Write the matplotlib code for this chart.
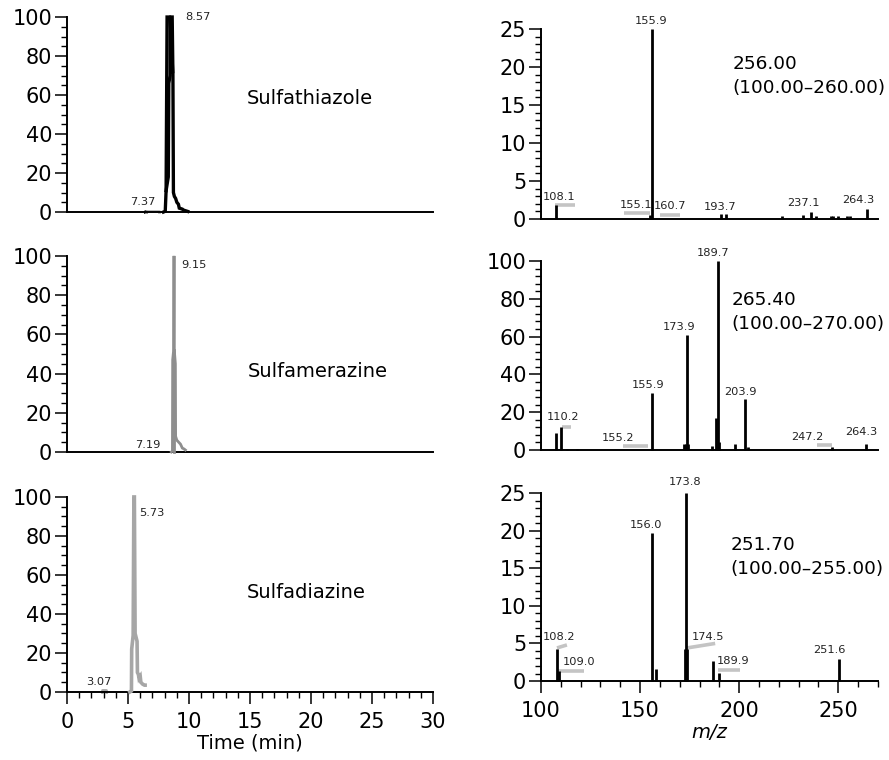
import matplotlib
matplotlib.use("Agg")
import matplotlib.pyplot as plt
from matplotlib.ticker import MultipleLocator

plt.rcParams['font.family'] = ['DejaVu Sans']

# ---- chromatograms (time in min, relative intensity %) ----
chrom_names = ['Sulfathiazole', 'Sulfamerazine', 'Sulfadiazine']
chrom_colors = ['black', '#8e8e8e', '#a6a6a6']
chrom_widths = [2.4, 2.0, 2.6]

t1 = [7.9, 8.05, 8.12, 8.2, 8.62, 8.68, 8.72, 8.8, 8.9, 9.0, 9.13, 9.2, 9.45, 9.55, 9.9]
i1 = [0, 0.4, 11, 100, 100, 70, 10, 8, 7, 5, 4, 2, 1.5, 1, 0.3]
t1_inner = [8.12, 8.3, 8.34, 8.45, 8.45, 8.66]
i1_inner = [11, 18, 66, 70, 100, 72]

t2 = [8.55, 8.64, 8.66, 8.74, 8.77, 8.79, 8.88, 8.9, 9.0, 9.15, 9.3, 9.45, 9.6, 9.7]
i2 = [0, 0.5, 47, 52, 100, 52, 45, 8, 6, 5, 4, 2, 1.5, 1]
t2_inner = [8.77, 8.77]
i2_inner = [0, 52]

t3 = [5.15, 5.28, 5.3, 5.42, 5.48, 5.52, 5.58, 5.74, 5.77, 5.85, 5.9, 6.0, 6.05, 6.2, 6.35, 6.4]
i3 = [0, 0.5, 22, 29, 100, 100, 30, 26, 10, 9, 7, 8, 5, 4, 3.5, 3.5]

chrom_t = [t1, t2, t3]
chrom_i = [i1, i2, i3]
chrom_inner = [(t1_inner, i1_inner), (t2_inner, i2_inner), None]

# retention time labels: (text, x, y, ha, va)
chrom_labels = [
    [('8.57', 9.67, 100, 'left', 'center'), ('7.37', 6.19, 2.4, 'center', 'bottom')],
    [('9.15', 9.4, 95.4, 'left', 'center'), ('7.19', 6.6, 1.0, 'center', 'bottom')],
    [('5.73', 5.9, 92, 'left', 'center'), ('3.07', 2.6, 2.4, 'center', 'bottom')],
]
name_pos = [(14.75, 58), (14.85, 41), (14.75, 51)]
# small minor peaks near the baseline: (t0, t1, height, colour)
baseline_marks = [[(6.4, 6.5, 0.6, 'black'), (6.5, 7.5, 0.5, '#b5b5b5')],
                  [],
                  [(2.85, 3.2, 1.0, '#a6a6a6')]]

# ---- mass spectra (m/z, intensity) ----
mz1 = [107.8, 155.1, 155.9, 191.0, 193.2, 221.7, 232.3, 236.4, 238.9, 246.3, 247.5, 250.0, 254.5, 255.8, 264.6]
in1 = [1.8, 0.5, 25, 0.6, 0.7, 0.4, 0.5, 0.9, 0.45, 0.4, 0.4, 0.4, 0.45, 0.45, 1.3]

mz2 = [107.6, 110.1, 113.0, 118.0, 155.9, 172.4, 173.0, 173.9, 174.4, 186.2, 188.5, 189.2, 190.0, 198.0, 203.0, 204.5, 246.8, 264.1]
in2 = [9, 12, 0.5, 0.5, 30, 3, 3, 61, 3, 2, 17, 100, 4, 3, 27, 1.5, 1.5, 3]

mz3 = [108.2, 109.0, 155.8, 158.1, 172.8, 173.3, 173.8, 186.9, 189.7, 250.5]
in3 = [4.3, 1.3, 19.7, 1.6, 4.3, 25, 4.3, 2.6, 1.1, 2.9]

spec_mz = [mz1, mz2, mz3]
spec_int = [in1, in2, in3]
spec_ymax = [25, 100, 25]
spec_major = [5, 20, 5]
spec_minor = [1, 4, 1]

# peak labels: (text, x, y-bottom)
spec_labels = [
    [('108.1', 109.1, 2.3), ('155.1', 148.0, 1.2), ('155.9', 155.6, 25.4), ('160.7', 165.2, 1.0),
     ('193.7', 190.4, 0.9), ('237.1', 232.3, 1.4), ('264.3', 260.1, 1.8)],
    [('110.2', 111.1, 15), ('155.2', 138.9, 3.5), ('155.9', 154.0, 32), ('173.9', 169.7, 62.5),
     ('189.7', 186.9, 101.8), ('203.9', 200.5, 28), ('247.2', 234.3, 4.4), ('264.3', 261.6, 6.7)],
    [('108.2', 109.1, 5.2), ('109.0', 119.2, 1.9), ('156.0', 153.0, 20.1), ('173.8', 172.7, 25.8),
     ('174.5', 184.3, 5.2), ('189.9', 197.0, 2.0), ('251.6', 245.5, 3.4)],
]
# grey leader lines: (x0, x1, y0, y1)
spec_leaders = [
    [(107.1, 117.2, 1.9, 1.9), (142.1, 155.1, 0.8, 0.8), (160.1, 170.2, 0.5, 0.5)],
    [(110.6, 115.2, 12.3, 12.3), (141.4, 154.0, 2.1, 2.1), (239.4, 247.0, 2.6, 2.6)],
    [(108.1, 113.1, 4.4, 4.8), (108.6, 121.7, 1.3, 1.3), (173.7, 187.9, 4.4, 5.0), (189.4, 200.5, 1.5, 1.5)],
]
spec_titles = ['256.00\n(100.00\u2013260.00)', '265.40\n(100.00\u2013270.00)', '251.70\n(100.00\u2013255.00)']
spec_title_pos = [(196.5, 18.8), (196.3, 73), (195.5, 16.5)]

fig = plt.figure(figsize=(8.89, 7.6), dpi=100)

left_rects = [[0.0754, 0.721, 0.4117, 0.2566],
              [0.0754, 0.4053, 0.4117, 0.258],
              [0.0754, 0.0895, 0.4117, 0.2566]]
right_rects = [[0.6085, 0.7118, 0.379, 0.25],
               [0.6085, 0.4079, 0.379, 0.2487],
               [0.6085, 0.1039, 0.379, 0.2474]]


def style_axes(ax, last):
    for s in ['top', 'right']:
        ax.spines[s].set_visible(False)
    for s in ['left', 'bottom']:
        ax.spines[s].set_linewidth(1.4)
    ax.tick_params(which='major', length=8.6, width=1.1, labelsize=15, pad=2, color='black')
    ax.tick_params(which='minor', length=4.3, width=1.0)
    if not last:
        ax.tick_params(axis='x', which='both', bottom=False, labelbottom=False)
    else:
        ax.tick_params(axis='x', which='major', pad=6)


for k in range(3):
    ax = fig.add_axes(left_rects[k])
    ax.plot(chrom_t[k], chrom_i[k], color=chrom_colors[k], lw=chrom_widths[k],
            solid_joinstyle='miter', clip_on=False, zorder=3)
    if chrom_inner[k] is not None:
        ax.plot(chrom_inner[k][0], chrom_inner[k][1], color=chrom_colors[k],
                lw=chrom_widths[k], clip_on=False, zorder=3)
    for x0, x1, h, c in baseline_marks[k]:
        ax.plot([x0, x0, x1, x1], [0, h, h, 0], color=c, lw=2.0, zorder=2, clip_on=False)
    for txt, x, y, ha, va in chrom_labels[k]:
        ax.text(x, y, txt, fontsize=8.2, ha=ha, va=va, color='#222222')
    ax.text(name_pos[k][0], name_pos[k][1], chrom_names[k], fontsize=14, va='center', ha='left')
    ax.set_xlim(0, 30)
    ax.set_ylim(0, 100)
    ax.yaxis.set_major_locator(MultipleLocator(20))
    ax.yaxis.set_minor_locator(MultipleLocator(5))
    ax.xaxis.set_major_locator(MultipleLocator(5))
    ax.xaxis.set_minor_locator(MultipleLocator(1))
    style_axes(ax, k == 2)
    if k == 2:
        ax.set_xlabel('Time (min)', fontsize=14, labelpad=1)

for k in range(3):
    ax = fig.add_axes(right_rects[k])
    for x0, x1, y0, y1 in spec_leaders[k]:
        ax.plot([x0, x1], [y0, y1], color='#c4c4c4', lw=2.6, solid_capstyle='butt', zorder=2)
    ax.vlines(spec_mz[k], 0, spec_int[k], color='black', lw=2.0, zorder=3, clip_on=False)
    for txt, x, y in spec_labels[k]:
        ax.text(x, y, txt, fontsize=8.2, ha='center', va='bottom', color='#222222')
    ax.text(spec_title_pos[k][0], spec_title_pos[k][1], spec_titles[k], fontsize=13.3,
            ha='left', va='center', linespacing=1.45)
    ax.set_xlim(100, 270)
    ax.set_ylim(0, spec_ymax[k])
    ax.yaxis.set_major_locator(MultipleLocator(spec_major[k]))
    ax.yaxis.set_minor_locator(MultipleLocator(spec_minor[k]))
    ax.xaxis.set_major_locator(MultipleLocator(50))
    ax.xaxis.set_minor_locator(MultipleLocator(10))
    style_axes(ax, k == 2)
    if k == 2:
        ax.set_xlabel('m/z', fontsize=14, style='italic', labelpad=1)

fig.savefig('out.png', dpi=100)
